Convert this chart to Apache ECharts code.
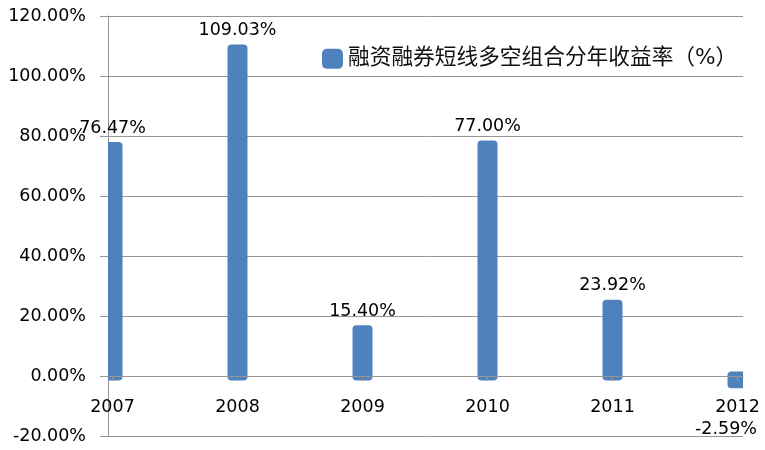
<!DOCTYPE html>
<html><head><meta charset="utf-8">
<script src="https://cdn.jsdelivr.net/npm/echarts@6/dist/echarts.min.js"></script>
<style>html,body{margin:0;padding:0;background:#fff}#c{width:765px;height:450px}</style>
</head><body><div id="c"></div>
<script>
const categories = ['2007', '2008', '2009', '2010', '2011', '2012'];
const values = [76.47, 109.03, 15.40, 77.00, 23.92, -2.59];
const valueLabels = ['76.47%', '109.03%', '15.40%', '77.00%', '23.92%', '-2.59%'];
const yTicks = [-20, 0, 20, 40, 60, 80, 100, 120];
const seriesName = '融资融券短线多空组合分年收益率（%）';

const years = categories.map(Number);
const barData = years.map((y, i) => [y, values[i], i]);
const gray = '#969696';
const barColor = '#4F81BD';
const numFont = "'DejaVu Sans', sans-serif";

const gridTop = 16, gridBottom = 14, H = 450;
const yMin = yTicks[0], yMax = yTicks[yTicks.length - 1];
const plotH = H - gridTop - gridBottom;
// move the category axis up so it sits on the zero line
const zeroOffset = -((0 - yMin) / (yMax - yMin)) * plotH;

const chart = echarts.init(document.getElementById('c'), null, {renderer: 'canvas'});
chart.setOption({
  animation: false,
  backgroundColor: '#fff',
  grid: {left: 108, right: 22, top: gridTop, bottom: gridBottom, containLabel: false, outerBoundsMode: 'none'},
  legend: {
    data: [seriesName],
    left: 322, top: 48, padding: 0,
    icon: 'roundRect',
    itemWidth: 21, itemHeight: 20,
    textStyle: {fontSize: 21.7, color: '#111', fontFamily: "'DejaVu Sans', 'Noto Sans CJK SC', sans-serif", padding: [0, 0, 8, 0]}
  },
  xAxis: {
    type: 'value',
    min: years[0] - 0.036,
    max: years[years.length - 1] + 0.044,
    z: 5,
    offset: zeroOffset,
    splitLine: {show: false},
    axisLine: {show: true, onZero: false, lineStyle: {color: gray, width: 1}},
    axisTick: {show: true, length: 5, customValues: years, lineStyle: {color: gray}},
    axisLabel: {
      customValues: years, margin: 22,
      formatter: v => String(Math.round(v)),
      fontSize: 17.5, color: '#000', fontFamily: numFont
    }
  },
  yAxis: {
    type: 'value', min: yMin, max: yMax, interval: 20,
    splitLine: {show: true, lineStyle: {color: gray, width: 1}},
    axisLine: {show: true, lineStyle: {color: gray, width: 1}},
    axisTick: {show: true, length: 8, lineStyle: {color: gray}},
    axisLabel: {
      margin: 22, formatter: v => v.toFixed(2) + '%',
      fontSize: 17.5, color: '#000', fontFamily: numFont, padding: [5, 0, 0, 0]
    }
  },
  series: [
    {
      name: seriesName,
      type: 'custom',
      clip: true,
      z: 3,
      itemStyle: {color: barColor},
      data: barData,
      renderItem: function (params, api) {
        const x = api.value(0), v = api.value(1);
        const top = api.coord([x, v]);
        const base = api.coord([x, 0]);
        const w = 20, ext = 4.5;
        const y1 = Math.min(top[1], base[1]) - ext;
        const y2 = Math.max(top[1], base[1]) + ext;
        return {
          type: 'rect',
          shape: {x: top[0] - w / 2, y: y1, width: w, height: y2 - y1, r: 4},
          style: {fill: barColor}
        };
      }
    },
    {
      name: 'labels',
      type: 'custom',
      clip: false,
      silent: true,
      z: 6,
      data: barData,
      renderItem: function (params, api) {
        const x = api.value(0), v = api.value(1), idx = api.value(2);
        const p = api.coord([x, v]);
        let px = p[0], py;
        if (v >= 0) { py = p[1] - 18.5; }
        else { px = p[0] - 11.5; py = p[1] + 45.5; }
        return {
          type: 'text',
          x: px, y: py,
          style: {
            text: valueLabels[idx],
            fontSize: 17.5, fontFamily: numFont, fill: '#000',
            align: 'center', verticalAlign: 'middle'
          }
        };
      }
    }
  ]
});
</script></body></html>
